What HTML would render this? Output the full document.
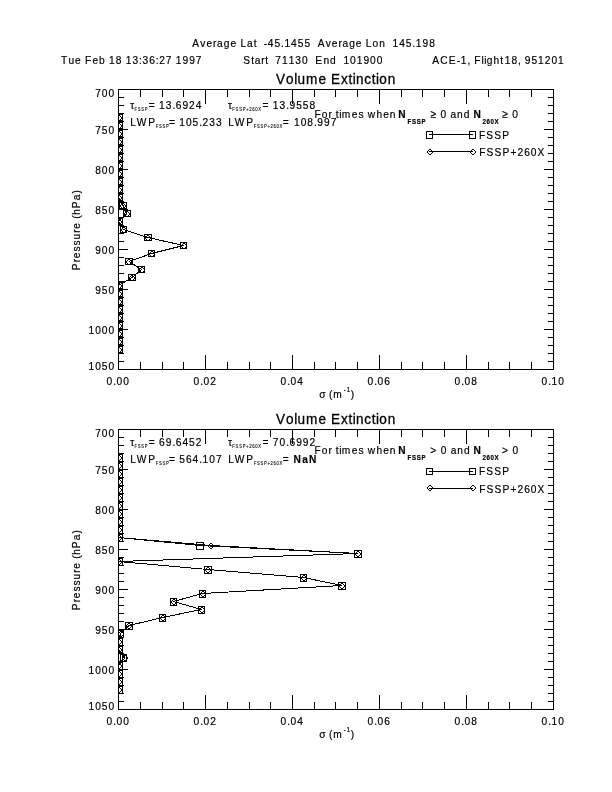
<!DOCTYPE html>
<html lang="en">
<head>
<meta charset="utf-8">
<title>Volume Extinction</title>
<style>
html,body{margin:0;padding:0;background:#fff;}
body{width:612px;height:792px;overflow:hidden;}
svg{display:block;}
text{font-family:"Liberation Sans", Arial, Helvetica, sans-serif;fill:#000;white-space:pre;stroke:#000;stroke-width:0.2px;}
text.ttl{stroke-width:0.3px;}
text.sb{stroke-width:0.1px;}
.ax line,.ax rect,.ax polygon,.ax polyline{stroke:#000;stroke-width:1;shape-rendering:crispEdges;stroke-linejoin:bevel;}
.ax use{stroke:none;shape-rendering:crispEdges;}
</style>
</head>
<body>
<svg width="612" height="792" viewBox="0 0 612 792">
<rect x="0" y="0" width="612" height="792" fill="#fff"/>
<defs><path id="dm" fill="#000" stroke="none" d="M0-2h2v1h-2zM-1-1h1v1h-1zM2-1h1v1h-1zM-2 0h1v2h-1zM3 0h1v2h-1zM-1 2h1v1h-1zM2 2h1v1h-1zM0 3h2v1h-2z"/></defs>
<text transform="scale(0.88,1)" x="218.61 227.71 234.53 242.11 246.65 254.24 261.82 269.4 273.19 280.78 288.36 292.15 295.94 299.73 304.27 311.85 319.43 323.22 330.81 338.39 345.98 353.56 357.35 361.14 370.23 377.05 384.63 389.17 396.76 404.34 411.93 415.72 423.3 430.88 438.47 442.26 446.04 453.63 461.21 468.8 472.58 480.17 487.75" y="47" font-size="11.6">Average Lat  -45.1455  Average Lon  145.198</text>
<text transform="scale(0.88,1)" x="69.4 77.73 85.31 92.9 96.68 105.01 112.6 120.18 123.97 131.55 139.14 142.93 150.51 158.09 161.88 169.47 177.05 180.84 188.42 196.01 199.8 207.38 214.96 222.55" y="64" font-size="11.6">Tue Feb 18 13:36:27 1997</text>
<text transform="scale(0.88,1)" x="276.52 285.61 289.4 296.99 301.53 305.32 309.1 312.89 320.48 328.06 335.65 343.23 350.81 354.6 358.39 367.49 375.07 382.65 386.44 390.23 397.81 405.4 412.98 420.57 428.15" y="64" font-size="11.6">Start  71130  End  101900</text>
<text transform="scale(0.88,1)" x="491.11 500.21 510.06 519.15 523.69 531.28 535.07 538.85 547.18 550.21 553.24 560.83 568.41 572.2 573.56 581.15 588.73 592.52 596.31 603.89 611.48 619.06 626.64 634.23" y="64" font-size="11.6">ACE-1, Flight 18, 951201</text>
<g class="ax">
<rect x="118.5" y="89.5" width="435.0" height="280.0" fill="none"/>
<line x1="140.5" y1="89.5" x2="140.5" y2="97.0"/>
<line x1="140.5" y1="369.5" x2="140.5" y2="362.0"/>
<line x1="162.5" y1="89.5" x2="162.5" y2="97.0"/>
<line x1="162.5" y1="369.5" x2="162.5" y2="362.0"/>
<line x1="183.5" y1="89.5" x2="183.5" y2="97.0"/>
<line x1="183.5" y1="369.5" x2="183.5" y2="362.0"/>
<line x1="205.5" y1="89.5" x2="205.5" y2="104.0"/>
<line x1="205.5" y1="369.5" x2="205.5" y2="355.0"/>
<line x1="227.5" y1="89.5" x2="227.5" y2="97.0"/>
<line x1="227.5" y1="369.5" x2="227.5" y2="362.0"/>
<line x1="249.5" y1="89.5" x2="249.5" y2="97.0"/>
<line x1="249.5" y1="369.5" x2="249.5" y2="362.0"/>
<line x1="270.5" y1="89.5" x2="270.5" y2="97.0"/>
<line x1="270.5" y1="369.5" x2="270.5" y2="362.0"/>
<line x1="292.5" y1="89.5" x2="292.5" y2="104.0"/>
<line x1="292.5" y1="369.5" x2="292.5" y2="355.0"/>
<line x1="314.5" y1="89.5" x2="314.5" y2="97.0"/>
<line x1="314.5" y1="369.5" x2="314.5" y2="362.0"/>
<line x1="335.5" y1="89.5" x2="335.5" y2="97.0"/>
<line x1="335.5" y1="369.5" x2="335.5" y2="362.0"/>
<line x1="357.5" y1="89.5" x2="357.5" y2="97.0"/>
<line x1="357.5" y1="369.5" x2="357.5" y2="362.0"/>
<line x1="379.5" y1="89.5" x2="379.5" y2="104.0"/>
<line x1="379.5" y1="369.5" x2="379.5" y2="355.0"/>
<line x1="401.5" y1="89.5" x2="401.5" y2="97.0"/>
<line x1="401.5" y1="369.5" x2="401.5" y2="362.0"/>
<line x1="422.5" y1="89.5" x2="422.5" y2="97.0"/>
<line x1="422.5" y1="369.5" x2="422.5" y2="362.0"/>
<line x1="444.5" y1="89.5" x2="444.5" y2="97.0"/>
<line x1="444.5" y1="369.5" x2="444.5" y2="362.0"/>
<line x1="466.5" y1="89.5" x2="466.5" y2="104.0"/>
<line x1="466.5" y1="369.5" x2="466.5" y2="355.0"/>
<line x1="488.5" y1="89.5" x2="488.5" y2="97.0"/>
<line x1="488.5" y1="369.5" x2="488.5" y2="362.0"/>
<line x1="509.5" y1="89.5" x2="509.5" y2="97.0"/>
<line x1="509.5" y1="369.5" x2="509.5" y2="362.0"/>
<line x1="531.5" y1="89.5" x2="531.5" y2="97.0"/>
<line x1="531.5" y1="369.5" x2="531.5" y2="362.0"/>
<line x1="118.5" y1="97.5" x2="124.0" y2="97.5"/>
<line x1="553.5" y1="97.5" x2="548.0" y2="97.5"/>
<line x1="118.5" y1="105.5" x2="124.0" y2="105.5"/>
<line x1="553.5" y1="105.5" x2="548.0" y2="105.5"/>
<line x1="118.5" y1="113.5" x2="124.0" y2="113.5"/>
<line x1="553.5" y1="113.5" x2="548.0" y2="113.5"/>
<line x1="118.5" y1="121.5" x2="124.0" y2="121.5"/>
<line x1="553.5" y1="121.5" x2="548.0" y2="121.5"/>
<line x1="118.5" y1="129.5" x2="128.0" y2="129.5"/>
<line x1="553.5" y1="129.5" x2="544.0" y2="129.5"/>
<line x1="118.5" y1="137.5" x2="124.0" y2="137.5"/>
<line x1="553.5" y1="137.5" x2="548.0" y2="137.5"/>
<line x1="118.5" y1="145.5" x2="124.0" y2="145.5"/>
<line x1="553.5" y1="145.5" x2="548.0" y2="145.5"/>
<line x1="118.5" y1="153.5" x2="124.0" y2="153.5"/>
<line x1="553.5" y1="153.5" x2="548.0" y2="153.5"/>
<line x1="118.5" y1="161.5" x2="124.0" y2="161.5"/>
<line x1="553.5" y1="161.5" x2="548.0" y2="161.5"/>
<line x1="118.5" y1="169.5" x2="128.0" y2="169.5"/>
<line x1="553.5" y1="169.5" x2="544.0" y2="169.5"/>
<line x1="118.5" y1="177.5" x2="124.0" y2="177.5"/>
<line x1="553.5" y1="177.5" x2="548.0" y2="177.5"/>
<line x1="118.5" y1="185.5" x2="124.0" y2="185.5"/>
<line x1="553.5" y1="185.5" x2="548.0" y2="185.5"/>
<line x1="118.5" y1="193.5" x2="124.0" y2="193.5"/>
<line x1="553.5" y1="193.5" x2="548.0" y2="193.5"/>
<line x1="118.5" y1="201.5" x2="124.0" y2="201.5"/>
<line x1="553.5" y1="201.5" x2="548.0" y2="201.5"/>
<line x1="118.5" y1="209.5" x2="128.0" y2="209.5"/>
<line x1="553.5" y1="209.5" x2="544.0" y2="209.5"/>
<line x1="118.5" y1="217.5" x2="124.0" y2="217.5"/>
<line x1="553.5" y1="217.5" x2="548.0" y2="217.5"/>
<line x1="118.5" y1="225.5" x2="124.0" y2="225.5"/>
<line x1="553.5" y1="225.5" x2="548.0" y2="225.5"/>
<line x1="118.5" y1="233.5" x2="124.0" y2="233.5"/>
<line x1="553.5" y1="233.5" x2="548.0" y2="233.5"/>
<line x1="118.5" y1="241.5" x2="124.0" y2="241.5"/>
<line x1="553.5" y1="241.5" x2="548.0" y2="241.5"/>
<line x1="118.5" y1="249.5" x2="128.0" y2="249.5"/>
<line x1="553.5" y1="249.5" x2="544.0" y2="249.5"/>
<line x1="118.5" y1="257.5" x2="124.0" y2="257.5"/>
<line x1="553.5" y1="257.5" x2="548.0" y2="257.5"/>
<line x1="118.5" y1="265.5" x2="124.0" y2="265.5"/>
<line x1="553.5" y1="265.5" x2="548.0" y2="265.5"/>
<line x1="118.5" y1="273.5" x2="124.0" y2="273.5"/>
<line x1="553.5" y1="273.5" x2="548.0" y2="273.5"/>
<line x1="118.5" y1="281.5" x2="124.0" y2="281.5"/>
<line x1="553.5" y1="281.5" x2="548.0" y2="281.5"/>
<line x1="118.5" y1="289.5" x2="128.0" y2="289.5"/>
<line x1="553.5" y1="289.5" x2="544.0" y2="289.5"/>
<line x1="118.5" y1="297.5" x2="124.0" y2="297.5"/>
<line x1="553.5" y1="297.5" x2="548.0" y2="297.5"/>
<line x1="118.5" y1="305.5" x2="124.0" y2="305.5"/>
<line x1="553.5" y1="305.5" x2="548.0" y2="305.5"/>
<line x1="118.5" y1="313.5" x2="124.0" y2="313.5"/>
<line x1="553.5" y1="313.5" x2="548.0" y2="313.5"/>
<line x1="118.5" y1="321.5" x2="124.0" y2="321.5"/>
<line x1="553.5" y1="321.5" x2="548.0" y2="321.5"/>
<line x1="118.5" y1="329.5" x2="128.0" y2="329.5"/>
<line x1="553.5" y1="329.5" x2="544.0" y2="329.5"/>
<line x1="118.5" y1="337.5" x2="124.0" y2="337.5"/>
<line x1="553.5" y1="337.5" x2="548.0" y2="337.5"/>
<line x1="118.5" y1="345.5" x2="124.0" y2="345.5"/>
<line x1="553.5" y1="345.5" x2="548.0" y2="345.5"/>
<line x1="118.5" y1="353.5" x2="124.0" y2="353.5"/>
<line x1="553.5" y1="353.5" x2="548.0" y2="353.5"/>
<line x1="118.5" y1="361.5" x2="124.0" y2="361.5"/>
<line x1="553.5" y1="361.5" x2="548.0" y2="361.5"/>
</g>
<text transform="scale(0.88,1)" x="108.16 115.74 123.33" y="97.0" font-size="11.6">700</text>
<text transform="scale(0.88,1)" x="108.16 115.74 123.33" y="134.0" font-size="11.6">750</text>
<text transform="scale(0.88,1)" x="108.16 115.74 123.33" y="174.0" font-size="11.6">800</text>
<text transform="scale(0.88,1)" x="108.16 115.74 123.33" y="214.0" font-size="11.6">850</text>
<text transform="scale(0.88,1)" x="108.16 115.74 123.33" y="254.0" font-size="11.6">900</text>
<text transform="scale(0.88,1)" x="108.16 115.74 123.33" y="294.0" font-size="11.6">950</text>
<text transform="scale(0.88,1)" x="100.57 108.16 115.74 123.33" y="334.0" font-size="11.6">1000</text>
<text transform="scale(0.88,1)" x="100.57 108.16 115.74 123.33" y="370.0" font-size="11.6">1050</text>
<text transform="scale(0.88,1)" x="121.05 128.63 132.42 140" y="385.0" font-size="11.6">0.00</text>
<text transform="scale(0.88,1)" x="219.91 227.5 231.28 238.87" y="385.0" font-size="11.6">0.02</text>
<text transform="scale(0.88,1)" x="318.78 326.36 330.15 337.73" y="385.0" font-size="11.6">0.04</text>
<text transform="scale(0.88,1)" x="417.64 425.22 429.01 436.6" y="385.0" font-size="11.6">0.06</text>
<text transform="scale(0.88,1)" x="516.5 524.09 527.88 535.46" y="385.0" font-size="11.6">0.08</text>
<text transform="scale(0.88,1)" x="615.37 622.95 626.74 634.32" y="385.0" font-size="11.6">0.10</text>
<text transform="scale(0.96,1)" x="287.44 297.86 306.55 310.02 318.71 331.73 340.42 344.76 355.18 362.99 367.33 370.8 379.49 387.31 391.65 395.12 403.81" y="84.0" font-size="14.13" class="ttl">Volume Extinction</text>
<text transform="scale(0.88,1)" x="362.92" y="398.0" font-size="11.6">σ</text>
<text transform="scale(0.88,1)" x="373.94" y="398.0" font-size="11.6">(</text>
<text transform="scale(0.88,1)" x="378.78" y="398.0" font-size="11.6">m</text>
<text transform="scale(0.88,1)" x="390.6" y="391.8" font-size="6.96">-</text>
<text transform="scale(0.88,1)" x="393.9" y="391.8" font-size="6.96">1</text>
<text transform="scale(0.88,1)" x="398.68" y="398.0" font-size="11.6">)</text>
<text transform="translate(80,229.8) rotate(-90) scale(0.88,1)" x="-45.85 -36.75 -32.21 -24.63 -17.81 -10.99 -3.41 1.13 8.72 12.5 17.05 24.63 33.72 41.31" y="0" font-size="11.6">Pressure (hPa)</text>
<text transform="scale(0.88,1)" x="148.02" y="109" font-size="11.6">τ</text>
<text transform="scale(0.88,1)" x="152.79 156.47 160.49 164.51" y="111.2" font-size="4.75" class="sb">FSSP</text>
<text transform="scale(0.88,1)" x="168.98 176.94 180.73 188.31 195.9 199.69 207.27 214.86 222.44" y="109" font-size="11.6">= 13.6924</text>
<text transform="scale(0.88,1)" x="259.15" y="109" font-size="11.6">τ</text>
<text transform="scale(0.88,1)" x="264.04 267.72 271.74 275.76 279.77 283.29 286.64 289.99 293.34" y="111.2" font-size="4.75" class="sb">FSSP+260X</text>
<text transform="scale(0.88,1)" x="298.3 306.26 310.05 317.63 325.22 329.01 336.59 344.17 351.76" y="109" font-size="11.6">= 13.9558</text>
<text transform="scale(0.88,1)" x="147.91 155.5 168.37" y="126" font-size="11.6">LWP</text>
<text transform="scale(0.88,1)" x="176.88 180.56 184.58 188.6" y="128.2" font-size="4.75" class="sb">FSSP</text>
<text transform="scale(0.88,1)" x="191.93 199.9 203.69 211.27 218.85 226.44 230.23 237.81 245.39" y="126" font-size="11.6">= 105.233</text>
<text transform="scale(0.88,1)" x="259.28 266.86 279.73" y="126" font-size="11.6">LWP</text>
<text transform="scale(0.88,1)" x="288.25 291.93 295.94 299.96 303.98 307.49 310.84 314.19 317.54" y="128.2" font-size="4.75" class="sb">FSSP+260X</text>
<text transform="scale(0.88,1)" x="321.25" y="126" font-size="11.6">=</text>
<text transform="scale(0.88,1)" x="334.12 341.7 349.28 356.87 360.66 368.24 375.82" y="126" font-size="11.6">108.997</text>
<text transform="scale(0.88,1)" x="357.34 365.67 373.26 377.8 381.59 385.38 388.41 399.76 407.35 414.17 417.96 427.8 435.39 442.97" y="118" font-size="11.6">For times when</text>
<text transform="scale(0.88,1)" x="452.63" y="118" font-size="11.6" font-weight="bold">N</text>
<text transform="scale(0.88,1)" x="463.17 468.17 473.63 479.08" y="124" font-size="6.96" font-weight="bold">FSSP</text>
<text transform="scale(0.88,1)" x="489.18 496.66 500.45 508.03 511.82 519.41 526.99" y="118" font-size="11.6">≥ 0 and</text>
<text transform="scale(0.88,1)" x="538.2" y="118" font-size="11.6" font-weight="bold">N</text>
<text transform="scale(0.88,1)" x="548.4 552.95 557.5 562.05" y="124" font-size="6.96" font-weight="bold">260X</text>
<text transform="scale(0.88,1)" x="570.77 578.25 582.04" y="118" font-size="11.6">≥ 0</text>
<g class="ax">
<line x1="429" y1="134.5" x2="473" y2="134.5"/>
<line x1="429" y1="151.5" x2="473" y2="151.5"/>
<rect x="426.5" y="131.5" width="6" height="7" fill="none"/>
<use href="#dm" x="429" y="151"/>
<rect x="469.5" y="131.5" width="6" height="7" fill="none"/>
<use href="#dm" x="472" y="151"/>
</g>
<text transform="scale(0.88,1)" x="544.28 552.61 561.7 570.8" y="139" font-size="11.6">FSSP</text>
<text transform="scale(0.88,1)" x="544.5 552.83 561.93 571.02 580.12 588.08 595.67 603.25 610.83" y="156" font-size="11.6">FSSP+260X</text>
<clipPath id="c1"><rect x="118" y="89.0" width="436" height="281"/></clipPath>
<g class="ax" clip-path="url(#c1)">
<polyline class="ln" fill="none" points="118.5,117.5 118.5,125.5 118.5,133.5 118.5,141.5 118.5,149.5 118.5,157.5 118.5,165.5 118.5,173.5 118.5,181.5 118.5,189.5 118.5,197.5 123.0,205.5 127.0,213.5 118.5,221.5 123.5,229.5 148.0,237.5 183.5,245.5 151.5,253.5 129.0,261.5 141.5,269.5 132.0,277.5 118.5,285.5 118.5,293.5 118.5,301.5 118.5,309.5 118.5,317.5 118.5,325.5 118.5,333.5 118.5,341.5 118.5,349.5"/>
<rect x="116.5" y="114.5" width="6" height="6" fill="none"/>
<use href="#dm" x="118" y="117"/>
<rect x="116.5" y="122.5" width="6" height="6" fill="none"/>
<use href="#dm" x="118" y="125"/>
<rect x="116.5" y="130.5" width="6" height="6" fill="none"/>
<use href="#dm" x="118" y="133"/>
<rect x="116.5" y="138.5" width="6" height="6" fill="none"/>
<use href="#dm" x="118" y="141"/>
<rect x="116.5" y="146.5" width="6" height="6" fill="none"/>
<use href="#dm" x="118" y="149"/>
<rect x="116.5" y="154.5" width="6" height="6" fill="none"/>
<use href="#dm" x="118" y="157"/>
<rect x="116.5" y="162.5" width="6" height="6" fill="none"/>
<use href="#dm" x="118" y="165"/>
<rect x="116.5" y="170.5" width="6" height="6" fill="none"/>
<use href="#dm" x="118" y="173"/>
<rect x="116.5" y="178.5" width="6" height="6" fill="none"/>
<use href="#dm" x="118" y="181"/>
<rect x="116.5" y="186.5" width="6" height="6" fill="none"/>
<use href="#dm" x="118" y="189"/>
<rect x="116.5" y="194.5" width="6" height="6" fill="none"/>
<use href="#dm" x="118" y="197"/>
<rect x="119.5" y="202.5" width="7" height="6" fill="none"/>
<use href="#dm" x="122" y="205"/>
<rect x="123.5" y="210.5" width="7" height="6" fill="none"/>
<use href="#dm" x="126" y="213"/>
<rect x="116.5" y="218.5" width="6" height="6" fill="none"/>
<use href="#dm" x="118" y="221"/>
<rect x="120.5" y="226.5" width="6" height="6" fill="none"/>
<use href="#dm" x="123" y="229"/>
<rect x="144.5" y="234.5" width="7" height="6" fill="none"/>
<use href="#dm" x="147" y="237"/>
<rect x="180.5" y="242.5" width="6" height="6" fill="none"/>
<use href="#dm" x="183" y="245"/>
<rect x="148.5" y="250.5" width="6" height="6" fill="none"/>
<use href="#dm" x="151" y="253"/>
<rect x="125.5" y="258.5" width="7" height="6" fill="none"/>
<use href="#dm" x="128" y="261"/>
<rect x="138.5" y="266.5" width="6" height="6" fill="none"/>
<use href="#dm" x="141" y="269"/>
<rect x="128.5" y="274.5" width="7" height="6" fill="none"/>
<use href="#dm" x="131" y="277"/>
<rect x="116.5" y="282.5" width="6" height="6" fill="none"/>
<use href="#dm" x="118" y="285"/>
<rect x="116.5" y="290.5" width="6" height="6" fill="none"/>
<use href="#dm" x="118" y="293"/>
<rect x="116.5" y="298.5" width="6" height="6" fill="none"/>
<use href="#dm" x="118" y="301"/>
<rect x="116.5" y="306.5" width="6" height="6" fill="none"/>
<use href="#dm" x="118" y="309"/>
<rect x="116.5" y="314.5" width="6" height="6" fill="none"/>
<use href="#dm" x="118" y="317"/>
<rect x="116.5" y="322.5" width="6" height="6" fill="none"/>
<use href="#dm" x="118" y="325"/>
<rect x="116.5" y="330.5" width="6" height="6" fill="none"/>
<use href="#dm" x="118" y="333"/>
<rect x="116.5" y="338.5" width="6" height="6" fill="none"/>
<use href="#dm" x="118" y="341"/>
<rect x="116.5" y="346.5" width="6" height="6" fill="none"/>
<use href="#dm" x="118" y="349"/>
</g>
<g class="ax">
<rect x="118.5" y="429.5" width="435.0" height="280.0" fill="none"/>
<line x1="140.5" y1="429.5" x2="140.5" y2="437.0"/>
<line x1="140.5" y1="709.5" x2="140.5" y2="702.0"/>
<line x1="162.5" y1="429.5" x2="162.5" y2="437.0"/>
<line x1="162.5" y1="709.5" x2="162.5" y2="702.0"/>
<line x1="183.5" y1="429.5" x2="183.5" y2="437.0"/>
<line x1="183.5" y1="709.5" x2="183.5" y2="702.0"/>
<line x1="205.5" y1="429.5" x2="205.5" y2="444.0"/>
<line x1="205.5" y1="709.5" x2="205.5" y2="695.0"/>
<line x1="227.5" y1="429.5" x2="227.5" y2="437.0"/>
<line x1="227.5" y1="709.5" x2="227.5" y2="702.0"/>
<line x1="249.5" y1="429.5" x2="249.5" y2="437.0"/>
<line x1="249.5" y1="709.5" x2="249.5" y2="702.0"/>
<line x1="270.5" y1="429.5" x2="270.5" y2="437.0"/>
<line x1="270.5" y1="709.5" x2="270.5" y2="702.0"/>
<line x1="292.5" y1="429.5" x2="292.5" y2="444.0"/>
<line x1="292.5" y1="709.5" x2="292.5" y2="695.0"/>
<line x1="314.5" y1="429.5" x2="314.5" y2="437.0"/>
<line x1="314.5" y1="709.5" x2="314.5" y2="702.0"/>
<line x1="335.5" y1="429.5" x2="335.5" y2="437.0"/>
<line x1="335.5" y1="709.5" x2="335.5" y2="702.0"/>
<line x1="357.5" y1="429.5" x2="357.5" y2="437.0"/>
<line x1="357.5" y1="709.5" x2="357.5" y2="702.0"/>
<line x1="379.5" y1="429.5" x2="379.5" y2="444.0"/>
<line x1="379.5" y1="709.5" x2="379.5" y2="695.0"/>
<line x1="401.5" y1="429.5" x2="401.5" y2="437.0"/>
<line x1="401.5" y1="709.5" x2="401.5" y2="702.0"/>
<line x1="422.5" y1="429.5" x2="422.5" y2="437.0"/>
<line x1="422.5" y1="709.5" x2="422.5" y2="702.0"/>
<line x1="444.5" y1="429.5" x2="444.5" y2="437.0"/>
<line x1="444.5" y1="709.5" x2="444.5" y2="702.0"/>
<line x1="466.5" y1="429.5" x2="466.5" y2="444.0"/>
<line x1="466.5" y1="709.5" x2="466.5" y2="695.0"/>
<line x1="488.5" y1="429.5" x2="488.5" y2="437.0"/>
<line x1="488.5" y1="709.5" x2="488.5" y2="702.0"/>
<line x1="509.5" y1="429.5" x2="509.5" y2="437.0"/>
<line x1="509.5" y1="709.5" x2="509.5" y2="702.0"/>
<line x1="531.5" y1="429.5" x2="531.5" y2="437.0"/>
<line x1="531.5" y1="709.5" x2="531.5" y2="702.0"/>
<line x1="118.5" y1="437.5" x2="124.0" y2="437.5"/>
<line x1="553.5" y1="437.5" x2="548.0" y2="437.5"/>
<line x1="118.5" y1="445.5" x2="124.0" y2="445.5"/>
<line x1="553.5" y1="445.5" x2="548.0" y2="445.5"/>
<line x1="118.5" y1="453.5" x2="124.0" y2="453.5"/>
<line x1="553.5" y1="453.5" x2="548.0" y2="453.5"/>
<line x1="118.5" y1="461.5" x2="124.0" y2="461.5"/>
<line x1="553.5" y1="461.5" x2="548.0" y2="461.5"/>
<line x1="118.5" y1="469.5" x2="128.0" y2="469.5"/>
<line x1="553.5" y1="469.5" x2="544.0" y2="469.5"/>
<line x1="118.5" y1="477.5" x2="124.0" y2="477.5"/>
<line x1="553.5" y1="477.5" x2="548.0" y2="477.5"/>
<line x1="118.5" y1="485.5" x2="124.0" y2="485.5"/>
<line x1="553.5" y1="485.5" x2="548.0" y2="485.5"/>
<line x1="118.5" y1="493.5" x2="124.0" y2="493.5"/>
<line x1="553.5" y1="493.5" x2="548.0" y2="493.5"/>
<line x1="118.5" y1="501.5" x2="124.0" y2="501.5"/>
<line x1="553.5" y1="501.5" x2="548.0" y2="501.5"/>
<line x1="118.5" y1="509.5" x2="128.0" y2="509.5"/>
<line x1="553.5" y1="509.5" x2="544.0" y2="509.5"/>
<line x1="118.5" y1="517.5" x2="124.0" y2="517.5"/>
<line x1="553.5" y1="517.5" x2="548.0" y2="517.5"/>
<line x1="118.5" y1="525.5" x2="124.0" y2="525.5"/>
<line x1="553.5" y1="525.5" x2="548.0" y2="525.5"/>
<line x1="118.5" y1="533.5" x2="124.0" y2="533.5"/>
<line x1="553.5" y1="533.5" x2="548.0" y2="533.5"/>
<line x1="118.5" y1="541.5" x2="124.0" y2="541.5"/>
<line x1="553.5" y1="541.5" x2="548.0" y2="541.5"/>
<line x1="118.5" y1="549.5" x2="128.0" y2="549.5"/>
<line x1="553.5" y1="549.5" x2="544.0" y2="549.5"/>
<line x1="118.5" y1="557.5" x2="124.0" y2="557.5"/>
<line x1="553.5" y1="557.5" x2="548.0" y2="557.5"/>
<line x1="118.5" y1="565.5" x2="124.0" y2="565.5"/>
<line x1="553.5" y1="565.5" x2="548.0" y2="565.5"/>
<line x1="118.5" y1="573.5" x2="124.0" y2="573.5"/>
<line x1="553.5" y1="573.5" x2="548.0" y2="573.5"/>
<line x1="118.5" y1="581.5" x2="124.0" y2="581.5"/>
<line x1="553.5" y1="581.5" x2="548.0" y2="581.5"/>
<line x1="118.5" y1="589.5" x2="128.0" y2="589.5"/>
<line x1="553.5" y1="589.5" x2="544.0" y2="589.5"/>
<line x1="118.5" y1="597.5" x2="124.0" y2="597.5"/>
<line x1="553.5" y1="597.5" x2="548.0" y2="597.5"/>
<line x1="118.5" y1="605.5" x2="124.0" y2="605.5"/>
<line x1="553.5" y1="605.5" x2="548.0" y2="605.5"/>
<line x1="118.5" y1="613.5" x2="124.0" y2="613.5"/>
<line x1="553.5" y1="613.5" x2="548.0" y2="613.5"/>
<line x1="118.5" y1="621.5" x2="124.0" y2="621.5"/>
<line x1="553.5" y1="621.5" x2="548.0" y2="621.5"/>
<line x1="118.5" y1="629.5" x2="128.0" y2="629.5"/>
<line x1="553.5" y1="629.5" x2="544.0" y2="629.5"/>
<line x1="118.5" y1="637.5" x2="124.0" y2="637.5"/>
<line x1="553.5" y1="637.5" x2="548.0" y2="637.5"/>
<line x1="118.5" y1="645.5" x2="124.0" y2="645.5"/>
<line x1="553.5" y1="645.5" x2="548.0" y2="645.5"/>
<line x1="118.5" y1="653.5" x2="124.0" y2="653.5"/>
<line x1="553.5" y1="653.5" x2="548.0" y2="653.5"/>
<line x1="118.5" y1="661.5" x2="124.0" y2="661.5"/>
<line x1="553.5" y1="661.5" x2="548.0" y2="661.5"/>
<line x1="118.5" y1="669.5" x2="128.0" y2="669.5"/>
<line x1="553.5" y1="669.5" x2="544.0" y2="669.5"/>
<line x1="118.5" y1="677.5" x2="124.0" y2="677.5"/>
<line x1="553.5" y1="677.5" x2="548.0" y2="677.5"/>
<line x1="118.5" y1="685.5" x2="124.0" y2="685.5"/>
<line x1="553.5" y1="685.5" x2="548.0" y2="685.5"/>
<line x1="118.5" y1="693.5" x2="124.0" y2="693.5"/>
<line x1="553.5" y1="693.5" x2="548.0" y2="693.5"/>
<line x1="118.5" y1="701.5" x2="124.0" y2="701.5"/>
<line x1="553.5" y1="701.5" x2="548.0" y2="701.5"/>
</g>
<text transform="scale(0.88,1)" x="108.16 115.74 123.33" y="437.0" font-size="11.6">700</text>
<text transform="scale(0.88,1)" x="108.16 115.74 123.33" y="474.0" font-size="11.6">750</text>
<text transform="scale(0.88,1)" x="108.16 115.74 123.33" y="514.0" font-size="11.6">800</text>
<text transform="scale(0.88,1)" x="108.16 115.74 123.33" y="554.0" font-size="11.6">850</text>
<text transform="scale(0.88,1)" x="108.16 115.74 123.33" y="594.0" font-size="11.6">900</text>
<text transform="scale(0.88,1)" x="108.16 115.74 123.33" y="634.0" font-size="11.6">950</text>
<text transform="scale(0.88,1)" x="100.57 108.16 115.74 123.33" y="674.0" font-size="11.6">1000</text>
<text transform="scale(0.88,1)" x="100.57 108.16 115.74 123.33" y="710.0" font-size="11.6">1050</text>
<text transform="scale(0.88,1)" x="121.05 128.63 132.42 140" y="725.0" font-size="11.6">0.00</text>
<text transform="scale(0.88,1)" x="219.91 227.5 231.28 238.87" y="725.0" font-size="11.6">0.02</text>
<text transform="scale(0.88,1)" x="318.78 326.36 330.15 337.73" y="725.0" font-size="11.6">0.04</text>
<text transform="scale(0.88,1)" x="417.64 425.22 429.01 436.6" y="725.0" font-size="11.6">0.06</text>
<text transform="scale(0.88,1)" x="516.5 524.09 527.88 535.46" y="725.0" font-size="11.6">0.08</text>
<text transform="scale(0.88,1)" x="615.37 622.95 626.74 634.32" y="725.0" font-size="11.6">0.10</text>
<text transform="scale(0.96,1)" x="287.44 297.86 306.55 310.02 318.71 331.73 340.42 344.76 355.18 362.99 367.33 370.8 379.49 387.31 391.65 395.12 403.81" y="424.0" font-size="14.13" class="ttl">Volume Extinction</text>
<text transform="scale(0.88,1)" x="362.92" y="738.0" font-size="11.6">σ</text>
<text transform="scale(0.88,1)" x="373.94" y="738.0" font-size="11.6">(</text>
<text transform="scale(0.88,1)" x="378.78" y="738.0" font-size="11.6">m</text>
<text transform="scale(0.88,1)" x="390.6" y="731.8" font-size="6.96">-</text>
<text transform="scale(0.88,1)" x="393.9" y="731.8" font-size="6.96">1</text>
<text transform="scale(0.88,1)" x="398.68" y="738.0" font-size="11.6">)</text>
<text transform="translate(80,569.8) rotate(-90) scale(0.88,1)" x="-45.85 -36.75 -32.21 -24.63 -17.81 -10.99 -3.41 1.13 8.72 12.5 17.05 24.63 33.72 41.31" y="0" font-size="11.6">Pressure (hPa)</text>
<text transform="scale(0.88,1)" x="148.02" y="446" font-size="11.6">τ</text>
<text transform="scale(0.88,1)" x="152.79 156.47 160.49 164.51" y="448.2" font-size="4.75" class="sb">FSSP</text>
<text transform="scale(0.88,1)" x="168.98 176.94 180.73 188.31 195.9 199.69 207.27 214.86 222.44" y="446" font-size="11.6">= 69.6452</text>
<text transform="scale(0.88,1)" x="259.15" y="446" font-size="11.6">τ</text>
<text transform="scale(0.88,1)" x="264.04 267.72 271.74 275.76 279.77 283.29 286.64 289.99 293.34" y="448.2" font-size="4.75" class="sb">FSSP+260X</text>
<text transform="scale(0.88,1)" x="298.3 306.26 310.05 317.63 325.22 329.01 336.59 344.17 351.76" y="446" font-size="11.6">= 70.6992</text>
<text transform="scale(0.88,1)" x="147.91 155.5 168.37" y="463" font-size="11.6">LWP</text>
<text transform="scale(0.88,1)" x="176.88 180.56 184.58 188.6" y="465.2" font-size="4.75" class="sb">FSSP</text>
<text transform="scale(0.88,1)" x="191.93 199.9 203.69 211.27 218.85 226.44 230.23 237.81 245.39" y="463" font-size="11.6">= 564.107</text>
<text transform="scale(0.88,1)" x="259.28 266.86 279.73" y="463" font-size="11.6">LWP</text>
<text transform="scale(0.88,1)" x="288.25 291.93 295.94 299.96 303.98 307.49 310.84 314.19 317.54" y="465.2" font-size="4.75" class="sb">FSSP+260X</text>
<text transform="scale(0.88,1)" x="321.25" y="463" font-size="11.6">=</text>
<text transform="scale(0.88,1)" x="333.66 343.5 351.09" y="463" font-size="11.6" font-weight="bold">NaN</text>
<text transform="scale(0.88,1)" x="357.34 365.67 373.26 377.8 381.59 385.38 388.41 399.76 407.35 414.17 417.96 427.8 435.39 442.97" y="454" font-size="11.6">For times when</text>
<text transform="scale(0.88,1)" x="452.63" y="454" font-size="11.6" font-weight="bold">N</text>
<text transform="scale(0.88,1)" x="463.17 468.17 473.63 479.08" y="460" font-size="6.96" font-weight="bold">FSSP</text>
<text transform="scale(0.88,1)" x="488.97 496.94 500.73 508.31 512.1 519.68 527.27" y="454" font-size="11.6">&gt; 0 and</text>
<text transform="scale(0.88,1)" x="538.2" y="454" font-size="11.6" font-weight="bold">N</text>
<text transform="scale(0.88,1)" x="548.4 552.95 557.5 562.05" y="460" font-size="6.96" font-weight="bold">260X</text>
<text transform="scale(0.88,1)" x="570.56 578.53 582.32" y="454" font-size="11.6">&gt; 0</text>
<g class="ax">
<line x1="429" y1="471.5" x2="473" y2="471.5"/>
<line x1="429" y1="488.5" x2="473" y2="488.5"/>
<rect x="426.5" y="468.5" width="6" height="6" fill="none"/>
<use href="#dm" x="429" y="487"/>
<rect x="469.5" y="468.5" width="6" height="6" fill="none"/>
<use href="#dm" x="472" y="487"/>
</g>
<text transform="scale(0.88,1)" x="544.28 552.61 561.7 570.8" y="475" font-size="11.6">FSSP</text>
<text transform="scale(0.88,1)" x="544.5 552.83 561.93 571.02 580.12 588.08 595.67 603.25 610.83" y="493" font-size="11.6">FSSP+260X</text>
<clipPath id="c2"><rect x="118" y="429.0" width="436" height="281"/></clipPath>
<g class="ax" clip-path="url(#c2)">
<polyline class="ln" fill="none" points="118.5,457.5 118.5,465.5 118.5,473.5 118.5,481.5 118.5,489.5 118.5,497.5 118.5,505.5 118.5,513.5 118.5,521.5 118.5,529.5 118.5,537.5 200.0,545.5 358.0,553.5 118.5,561.5 208.0,569.5 303.5,577.5 342.0,585.5 202.5,593.5 173.5,601.5 201.5,609.5 162.5,617.5 129.0,625.5 120.5,633.5 118.5,641.5 118.5,649.5 123.5,657.5 118.5,665.5 118.5,673.5 118.5,681.5 118.5,689.5"/>
<polyline class="ln" fill="none" points="118.5,457.5 118.5,465.5 118.5,473.5 118.5,481.5 118.5,489.5 118.5,497.5 118.5,505.5 118.5,513.5 118.5,521.5 118.5,529.5 118.5,537.5 211.0,545.5 358.0,553.5 118.5,561.5 208.0,569.5 303.5,577.5 342.0,585.5 202.5,593.5 173.5,601.5 201.5,609.5 162.5,617.5 129.0,625.5 120.5,633.5 118.5,641.5 118.5,649.5 125.0,657.5 118.5,665.5 118.5,673.5 118.5,681.5 118.5,689.5"/>
<rect x="116.5" y="454.5" width="6" height="7" fill="none"/>
<use href="#dm" x="118" y="457"/>
<rect x="116.5" y="462.5" width="6" height="7" fill="none"/>
<use href="#dm" x="118" y="465"/>
<rect x="116.5" y="470.5" width="6" height="7" fill="none"/>
<use href="#dm" x="118" y="473"/>
<rect x="116.5" y="478.5" width="6" height="7" fill="none"/>
<use href="#dm" x="118" y="481"/>
<rect x="116.5" y="486.5" width="6" height="7" fill="none"/>
<use href="#dm" x="118" y="489"/>
<rect x="116.5" y="494.5" width="6" height="7" fill="none"/>
<use href="#dm" x="118" y="497"/>
<rect x="116.5" y="502.5" width="6" height="7" fill="none"/>
<use href="#dm" x="118" y="505"/>
<rect x="116.5" y="510.5" width="6" height="7" fill="none"/>
<use href="#dm" x="118" y="513"/>
<rect x="116.5" y="518.5" width="6" height="7" fill="none"/>
<use href="#dm" x="118" y="521"/>
<rect x="116.5" y="526.5" width="6" height="7" fill="none"/>
<use href="#dm" x="118" y="529"/>
<rect x="116.5" y="534.5" width="6" height="7" fill="none"/>
<use href="#dm" x="118" y="537"/>
<rect x="196.5" y="542.5" width="7" height="7" fill="none"/>
<use href="#dm" x="210" y="545"/>
<rect x="354.5" y="550.5" width="7" height="7" fill="none"/>
<use href="#dm" x="357" y="553"/>
<rect x="116.5" y="558.5" width="6" height="7" fill="none"/>
<use href="#dm" x="118" y="561"/>
<rect x="204.5" y="566.5" width="7" height="7" fill="none"/>
<use href="#dm" x="207" y="569"/>
<rect x="300.5" y="574.5" width="6" height="7" fill="none"/>
<use href="#dm" x="303" y="577"/>
<rect x="338.5" y="582.5" width="7" height="7" fill="none"/>
<use href="#dm" x="341" y="585"/>
<rect x="199.5" y="590.5" width="6" height="7" fill="none"/>
<use href="#dm" x="202" y="593"/>
<rect x="170.5" y="598.5" width="6" height="7" fill="none"/>
<use href="#dm" x="173" y="601"/>
<rect x="198.5" y="606.5" width="6" height="7" fill="none"/>
<use href="#dm" x="201" y="609"/>
<rect x="159.5" y="614.5" width="6" height="7" fill="none"/>
<use href="#dm" x="162" y="617"/>
<rect x="125.5" y="622.5" width="7" height="7" fill="none"/>
<use href="#dm" x="128" y="625"/>
<rect x="117.5" y="630.5" width="6" height="7" fill="none"/>
<use href="#dm" x="120" y="633"/>
<rect x="116.5" y="638.5" width="6" height="7" fill="none"/>
<use href="#dm" x="118" y="641"/>
<rect x="116.5" y="646.5" width="6" height="7" fill="none"/>
<use href="#dm" x="118" y="649"/>
<rect x="120.5" y="654.5" width="6" height="7" fill="none"/>
<use href="#dm" x="124" y="657"/>
<rect x="116.5" y="662.5" width="6" height="7" fill="none"/>
<use href="#dm" x="118" y="665"/>
<rect x="116.5" y="670.5" width="6" height="7" fill="none"/>
<use href="#dm" x="118" y="673"/>
<rect x="116.5" y="678.5" width="6" height="7" fill="none"/>
<use href="#dm" x="118" y="681"/>
<rect x="116.5" y="686.5" width="6" height="7" fill="none"/>
<use href="#dm" x="118" y="689"/>
</g>
</svg>
</body>
</html>
